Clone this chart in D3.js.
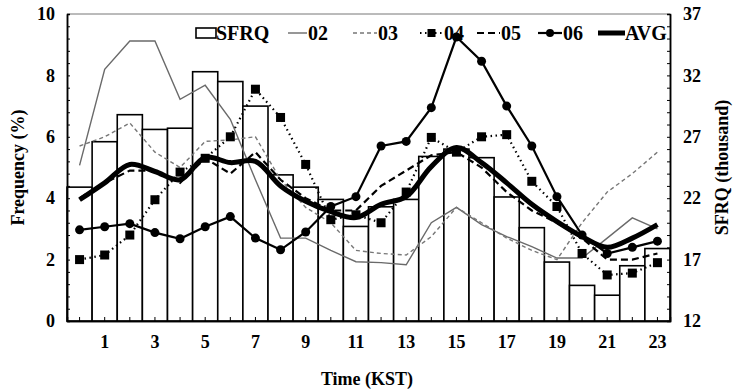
<!DOCTYPE html>
<html>
<head>
<meta charset="utf-8">
<script src="https://cdn.jsdelivr.net/npm/d3@7"></script>
<style>
  body { margin: 0; background: #fff; }
  svg text { font-family: "Liberation Serif", "Times New Roman", serif; font-weight: bold; fill: #000; }
</style>
</head>
<body>
<script>
(function() {

    // hours (KST), bars are SFRQ in thousand (right axis), lines are frequency (%) by month
    var hours = [0, 1, 2, 3, 4, 5, 6, 7, 8, 9, 10, 11, 12, 13, 14, 15, 16, 17, 18, 19, 20, 21, 22, 23];
    var hourLabels = [1, 3, 5, 7, 9, 11, 13, 15, 17, 19, 21, 23];

    var sfrq = [22.9, 26.6, 28.8, 27.6, 27.7, 32.3, 31.5, 29.5, 23.9, 22.9, 21.9, 19.7,
                21.3, 21.9, 25.4, 26.0, 25.3, 22.1, 19.6, 16.8, 14.9, 14.1, 16.5, 17.9];

    var m02 = [5.07, 8.2, 9.12, 9.12, 7.22, 7.68, 6.57, 4.6, 2.7, 2.7, 2.3, 1.93,
               1.9, 1.83, 3.2, 3.7, 3.14, 2.75, 2.42, 2.05, 2.05, 2.7, 3.36, 3.0];
    var m03 = [5.7, 6.0, 6.45, 5.5, 5.0, 5.85, 5.9, 6.0, 4.6, 3.7, 3.2, 2.3,
               2.2, 2.15, 2.75, 3.7, 3.2, 2.7, 2.3, 2.0, 3.2, 4.2, 4.8, 5.5];
    var m04 = [2.0, 2.15, 2.8, 3.95, 4.85, 5.3, 6.0, 7.55, 6.63, 5.1, 3.3, 3.46,
               3.2, 4.2, 5.98, 5.5, 6.0, 6.07, 4.55, 3.73, 2.2, 1.5, 1.56, 1.9];
    var m05 = [4.0, 4.5, 4.9, 4.9, 4.5, 5.3, 4.8, 5.5, 4.6, 4.0, 3.6, 3.6,
               4.4, 4.9, 5.4, 5.5, 5.0, 4.2, 3.6, 3.2, 2.7, 2.0, 2.0, 2.2];
    var m06 = [2.97, 3.07, 3.17, 2.88, 2.68, 3.07, 3.4, 2.7, 2.32, 2.9, 3.73, 4.05,
               5.7, 5.85, 6.95, 9.25, 8.46, 7.0, 5.7, 4.05, 2.8, 2.2, 2.4, 2.6];
    var avg = [3.95, 4.5, 5.1, 4.87, 4.6, 5.33, 5.16, 5.2, 4.4, 3.9, 3.56, 3.37,
               3.8, 4.05, 5.03, 5.65, 5.16, 4.5, 3.8, 3.24, 2.75, 2.4, 2.7, 3.14];

    var leftTicks = [0, 2, 4, 6, 8, 10];
    var rightTicks = [12, 17, 22, 27, 32, 37];

    var width = 734,
        height = 391;

    var left = 67, right = 670, top = 14, bottom = 321;

    var svg = d3.select("body")
        .append("svg")
        .attr("width", width)
        .attr("height", height);

    var x = d3.scaleBand()
        .domain(hours)
        .range([left, right])
        .padding(0);

    var yL = d3.scaleLinear().domain([0, 10]).range([bottom, top]);
    var yR = d3.scaleLinear().domain([12, 37]).range([bottom, top]);

    var cx = function(d, i) { return x(hours[i]) + x.bandwidth() / 2; };

    // bars (SFRQ)
    svg.append("g")
        .selectAll("rect")
        .data(sfrq)
        .enter().append("rect")
        .attr("x", function(d, i) { return x(hours[i]); })
        .attr("y", function(d) { return yR(d); })
        .attr("width", x.bandwidth())
        .attr("height", function(d) { return bottom - yR(d); })
        .attr("fill", "#fff")
        .attr("stroke", "#000")
        .attr("stroke-width", 1.6);

    // top frame line
    svg.append("line")
        .attr("x1", left).attr("x2", right)
        .attr("y1", top).attr("y2", top)
        .attr("stroke", "#777")
        .attr("stroke-width", 1);

    // axes
    svg.append("g")
        .attr("transform", "translate(" + left + ",0)")
        .call(d3.axisLeft(yL).tickValues(leftTicks).tickSize(0).tickPadding(12));
    svg.append("g")
        .attr("transform", "translate(" + left + ",0)")
        .call(d3.axisRight(yL).tickValues(d3.range(0, 10.01, 0.4)).tickSize(3).tickFormat(""));

    svg.append("g")
        .attr("transform", "translate(" + right + ",0)")
        .call(d3.axisRight(yR).tickValues(rightTicks).tickSize(0).tickPadding(13));
    svg.append("g")
        .attr("transform", "translate(" + right + ",0)")
        .call(d3.axisLeft(yR).tickValues(d3.range(12, 37.01, 1)).tickSize(3).tickFormat(""));

    svg.append("g")
        .attr("transform", "translate(0," + bottom + ")")
        .call(d3.axisBottom(x).tickValues(hourLabels).tickSize(0).tickPadding(14));
    svg.append("g")
        .attr("transform", "translate(0," + bottom + ")")
        .call(d3.axisTop(x).tickSize(4).tickFormat(""));

    svg.selectAll(".domain").attr("stroke", "#000").attr("stroke-width", 1.5);
    svg.selectAll(".tick line").attr("stroke", "#000").attr("stroke-width", 1);
    svg.selectAll(".tick text").style("font-size", "18px");

    // axis titles
    svg.append("text")
        .attr("transform", "translate(24," + ((top + bottom) / 2) + ") rotate(-90)")
        .attr("text-anchor", "middle")
        .style("font-size", "18px")
        .text("Frequency (%)");

    svg.append("text")
        .attr("transform", "translate(728," + ((top + bottom) / 2) + ") rotate(-90)")
        .attr("text-anchor", "middle")
        .style("font-size", "18px")
        .text("SFRQ (thousand)");

    svg.append("text")
        .attr("x", 367)
        .attr("y", 385)
        .attr("text-anchor", "middle")
        .style("font-size", "18px")
        .text("Time (KST)");

    // lines
    var line = d3.line()
        .x(cx)
        .y(function(d) { return yL(d); });

    var series = [
        { name: "02", data: m02, stroke: "#6a6a6a", width: 1.4, dash: null },
        { name: "03", data: m03, stroke: "#777", width: 1.4, dash: "4,3" },
        { name: "04", data: m04, stroke: "#000", width: 2.2, dash: "1.5,3.5", marker: "square" },
        { name: "05", data: m05, stroke: "#000", width: 2.2, dash: "7,4" },
        { name: "06", data: m06, stroke: "#000", width: 2.2, dash: null, marker: "circle" }
    ];

    series.forEach(function(s) {
        svg.append("path")
            .datum(s.data)
            .attr("d", line)
            .attr("fill", "none")
            .attr("stroke", s.stroke)
            .attr("stroke-width", s.width)
            .attr("stroke-dasharray", s.dash);

        if (s.marker === "square") {
            svg.append("g").selectAll("rect")
                .data(s.data)
                .enter().append("rect")
                .attr("x", function(d, i) { return cx(d, i) - 4.5; })
                .attr("y", function(d) { return yL(d) - 4.5; })
                .attr("width", 9)
                .attr("height", 9)
                .attr("fill", "#000");
        }
        if (s.marker === "circle") {
            svg.append("g").selectAll("circle")
                .data(s.data)
                .enter().append("circle")
                .attr("cx", cx)
                .attr("cy", function(d) { return yL(d); })
                .attr("r", 4.5)
                .attr("fill", "#000");
        }
    });

    svg.append("path")
        .datum(avg)
        .attr("d", line.curve(d3.curveCatmullRom))
        .attr("fill", "none")
        .attr("stroke", "#000")
        .attr("stroke-width", 5);

    // legend
    var ly = 33;
    var legend = svg.append("g");

    legend.append("rect")
        .attr("x", 196).attr("y", ly - 5)
        .attr("width", 20).attr("height", 10)
        .attr("fill", "#fff").attr("stroke", "#000").attr("stroke-width", 1.6);
    legend.append("text").attr("x", 216).attr("y", ly + 7).style("font-size", "20px").text("SFRQ");

    var legendItems = [
        { s: series[0], x1: 288, x2: 307 },
        { s: series[1], x1: 353, x2: 377 },
        { s: series[2], x1: 420, x2: 443 },
        { s: series[3], x1: 477, x2: 500 },
        { s: series[4], x1: 538, x2: 562 }
    ];

    legendItems.forEach(function(d) {
        legend.append("line")
            .attr("x1", d.x1).attr("x2", d.x2)
            .attr("y1", ly).attr("y2", ly)
            .attr("stroke", d.s.stroke)
            .attr("stroke-width", d.s.width)
            .attr("stroke-dasharray", d.s.dash);
        var mx = (d.x1 + d.x2) / 2;
        if (d.s.marker === "square") {
            legend.append("rect").attr("x", mx - 4).attr("y", ly - 4)
                .attr("width", 8).attr("height", 8).attr("fill", "#000");
        }
        if (d.s.marker === "circle") {
            legend.append("circle").attr("cx", mx).attr("cy", ly).attr("r", 4).attr("fill", "#000");
        }
        legend.append("text").attr("x", d.x2 + 1).attr("y", ly + 7).style("font-size", "20px").text(d.s.name);
    });

    legend.append("line")
        .attr("x1", 598).attr("x2", 625)
        .attr("y1", ly).attr("y2", ly)
        .attr("stroke", "#000").attr("stroke-width", 5);
    legend.append("text").attr("x", 625).attr("y", ly + 7).style("font-size", "20px").text("AVG");

})();
</script>
</body>
</html>
